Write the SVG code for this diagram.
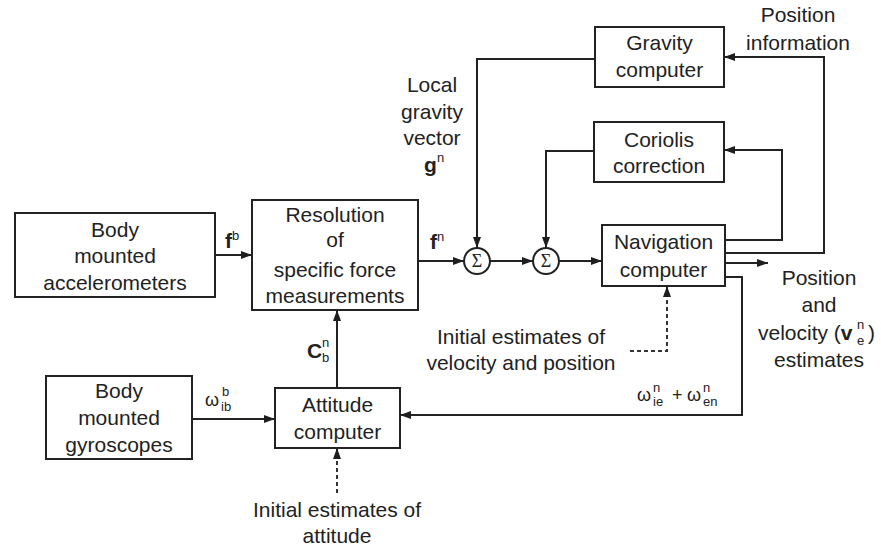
<svg xmlns="http://www.w3.org/2000/svg" width="881" height="551" viewBox="0 0 881 551">
<defs>
<marker id="ah" markerUnits="userSpaceOnUse" markerWidth="12" markerHeight="10" refX="11" refY="4" orient="auto">
<path d="M0,0 L11,4 L0,8 z" fill="#1e1e1e"/>
</marker>
<style>
.box{fill:#fff;stroke:#222;stroke-width:2}
.ln{fill:none;stroke:#222;stroke-width:2}
.dash{fill:none;stroke:#333;stroke-width:2;stroke-dasharray:4 3}
text{font-family:"Liberation Sans",Arial,sans-serif;font-size:21px;fill:#222;text-anchor:middle}
.b{font-weight:bold}
.sm{font-size:13px}
.sig{font-family:"Liberation Serif","Times New Roman",serif;font-size:18px}
.l{text-anchor:start}
</style>
</defs>
<rect width="881" height="551" fill="#fff"/>

<g id="connectors">
<path class="ln" d="M215,255 H252" marker-end="url(#ah)"/>
<path class="ln" d="M418,261 H464" marker-end="url(#ah)"/>
<path class="ln" d="M490,261 H533" marker-end="url(#ah)"/>
<path class="ln" d="M559,261 H602" marker-end="url(#ah)"/>
<path class="ln" d="M595,59 H477 V248" marker-end="url(#ah)"/>
<path class="ln" d="M594,151 H546 V248" marker-end="url(#ah)"/>
<path class="ln" d="M725,253 H824 V57 H724" marker-end="url(#ah)"/>
<path class="ln" d="M725,240 H782 V150 H724" marker-end="url(#ah)"/>
<path class="ln" d="M725,263 H768" marker-end="url(#ah)"/>
<path class="ln" d="M725,277 H742 V415 H400" marker-end="url(#ah)"/>
<path class="ln" d="M337,388 V310" marker-end="url(#ah)"/>
<path class="ln" d="M192,419 H275" marker-end="url(#ah)"/>
<path class="dash" d="M630,351 H667 V287"/>
<path class="ln" d="M667,296 V286" marker-end="url(#ah)"/>
<path class="dash" d="M337,493 V450"/>
<path class="ln" d="M337,458 V448" marker-end="url(#ah)"/>
</g>

<g id="gravity">
<rect class="box" x="595" y="27" width="129" height="60"/>
<text x="659.5" y="50">Gravity</text>
<text x="659.5" y="77">computer</text>
</g>
<g id="coriolis">
<rect class="box" x="594" y="122" width="130" height="60"/>
<text x="659" y="147">Coriolis</text>
<text x="659" y="173">correction</text>
</g>
<g id="navigation">
<rect class="box" x="602" y="225" width="123" height="61"/>
<text x="663.5" y="249">Navigation</text>
<text x="663.5" y="277">computer</text>
</g>
<g id="resolution">
<rect class="box" x="252" y="200" width="166" height="110"/>
<text x="335" y="222">Resolution</text>
<text x="335" y="247">of</text>
<text x="335" y="277">specific force</text>
<text x="335" y="303">measurements</text>
</g>
<g id="accelerometers">
<rect class="box" x="15" y="213" width="200" height="84"/>
<text x="115" y="237">Body</text>
<text x="115" y="263">mounted</text>
<text x="115" y="290">accelerometers</text>
</g>
<g id="gyroscopes">
<rect class="box" x="46" y="376" width="146" height="83"/>
<text x="119" y="398">Body</text>
<text x="119" y="425">mounted</text>
<text x="119" y="452">gyroscopes</text>
</g>
<g id="attitude">
<rect class="box" x="275" y="388" width="125" height="60"/>
<text x="337.5" y="412">Attitude</text>
<text x="337.5" y="439">computer</text>
</g>
<g id="sum1">
<circle class="box" cx="477" cy="261" r="13"/>
<text class="sig" x="477" y="267">Σ</text>
</g>
<g id="sum2">
<circle class="box" cx="546" cy="261" r="13"/>
<text class="sig" x="546" y="267">Σ</text>
</g>

<g id="labels">
<text x="798" y="22">Position</text>
<text x="798" y="50">information</text>
<text x="432" y="92">Local</text>
<text x="432" y="119">gravity</text>
<text x="432" y="145">vector</text>
<text class="b l" x="424" y="172">g</text><text class="sm l" x="437" y="162">n</text>
<text class="b l" x="225" y="248">f</text><text class="sm l" x="232" y="240">b</text>
<text class="b l" x="430" y="249">f</text><text class="sm l" x="437" y="241">n</text>
<text class="b l" x="307" y="358">C</text><text class="sm l" x="322" y="347">n</text><text class="sm l" x="322" y="362">b</text>
<text class="l" x="205" y="406" style="font-size:18px">ω</text><text class="sm l" x="222" y="396">b</text><text class="sm l" x="221" y="411">ib</text>
<text class="l" x="637" y="401" style="font-size:18px">ω</text><text class="sm l" x="653" y="392">n</text><text class="sm l" x="653" y="406">ie</text>
<text class="l" x="672" y="401" style="font-size:18px">+</text>
<text class="l" x="687" y="401" style="font-size:18px">ω</text><text class="sm l" x="703" y="392">n</text><text class="sm l" x="703" y="406">en</text>
<text x="521" y="344">Initial estimates of</text>
<text x="521" y="370">velocity and position</text>
<text x="337" y="517">Initial estimates of</text>
<text x="337" y="543">attitude</text>
<text x="819" y="285">Position</text>
<text x="819" y="312">and</text>
<text class="l" x="758" y="340">velocity (<tspan class="b">v</tspan></text>
<text class="sm l" x="857" y="329">n</text><text class="sm l" x="857" y="345">e</text>
<text class="l" x="868" y="340">)</text>
<text x="819" y="367">estimates</text>
</g>
</svg>
